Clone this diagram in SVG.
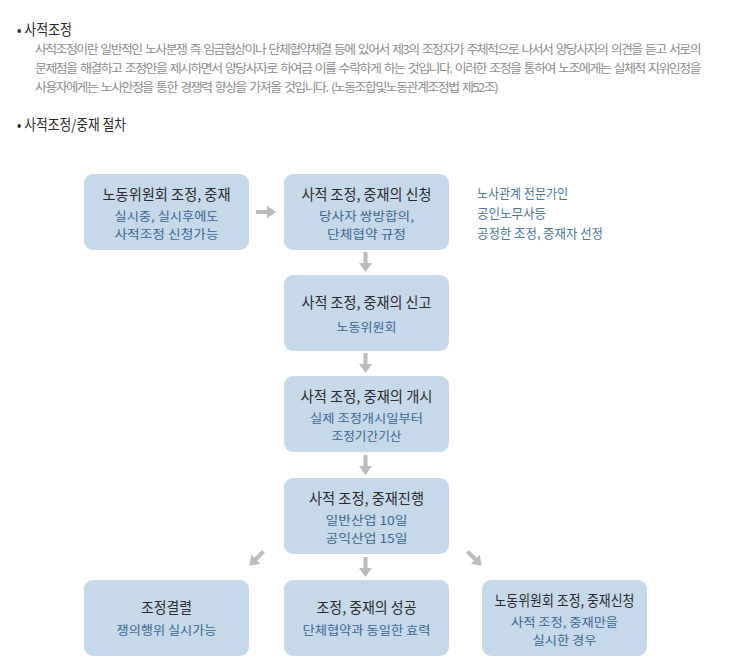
<svg xmlns="http://www.w3.org/2000/svg" xmlns:xlink="http://www.w3.org/1999/xlink" width="730" height="663" viewBox="0 0 730 663">
<style>
text{font-family:"Noto Sans CJK KR","Noto Sans",sans-serif}
.h{font-size:14.5px;fill:#2a2a2a}
.p{font-size:12px;fill:#8c8c8c;letter-spacing:-1.4px;word-spacing:1.8px}
.box{fill:#c6d9ea}
.t{font-size:14.5px;fill:#2b2b2b;text-anchor:middle}
.s{font-size:12.2px;fill:#3b6793;text-anchor:middle}
.side{font-size:13px;fill:#4a76a4}
.arr{fill:#bcbcbc}
</style>
<defs>
<path id="ar" d="M0,-2 H11 V-6.5 L20,0 L11,6.5 V2 H0 Z"/>
</defs>
<rect width="730" height="663" fill="#ffffff"/>

<g id="intro">
<text class="h" x="17" y="35" textLength="55" lengthAdjust="spacingAndGlyphs">• 사적조정</text>
<text class="p" x="35" y="53.5" textLength="665" lengthAdjust="spacingAndGlyphs">사적조정이란 일반적인 노사분쟁 즉 임금협상이나 단체협약체결 등에 있어서 제3의 조정자가 주체적으로 나서서 양당사자의 의견을 듣고 서로의</text>
<text class="p" x="35" y="72.5" textLength="665" lengthAdjust="spacingAndGlyphs">문제점을 해결하고 조정안을 제시하면서 양당사자로 하여금 이를 수락하게 하는 것입니다. 이러한 조정을 통하여 노조에게는 실체적 지위인정을</text>
<text class="p" x="35" y="91.5" textLength="462" lengthAdjust="spacingAndGlyphs">사용자에게는 노사안정을 통한 경쟁력 향상을 가져올 것입니다. (노동조합및노동관계조정법 제52조)</text>
<text class="h" x="17" y="130" textLength="109" lengthAdjust="spacingAndGlyphs">• 사적조정/중재 절차</text>
</g>

<g id="connectors">
<use href="#ar" class="arr" transform="translate(256,212)"/>
<use href="#ar" class="arr" transform="translate(365.5,252) rotate(90)"/>
<use href="#ar" class="arr" transform="translate(365.5,353) rotate(90)"/>
<use href="#ar" class="arr" transform="translate(365.5,455) rotate(90)"/>
<use href="#ar" class="arr" transform="translate(365.5,557) rotate(90)"/>
<use href="#ar" class="arr" transform="translate(263.5,551.5) rotate(135)"/>
<use href="#ar" class="arr" transform="translate(467.5,551.5) rotate(45)"/>
</g>

<g id="node-labor-committee">
<rect class="box" x="84" y="174" width="165" height="76" rx="9"/>
<text class="t" x="166.5" y="200" textLength="128" lengthAdjust="spacingAndGlyphs">노동위원회 조정, 중재</text>
<text class="s" x="166.5" y="221" textLength="104" lengthAdjust="spacingAndGlyphs">실시중, 실시후에도</text>
<text class="s" x="166.5" y="239" textLength="104" lengthAdjust="spacingAndGlyphs">사적조정 신청가능</text>
</g>

<g id="node-apply">
<rect class="box" x="284" y="174" width="165" height="76" rx="9"/>
<text class="t" x="366.5" y="200" textLength="130" lengthAdjust="spacingAndGlyphs">사적 조정, 중재의 신청</text>
<text class="s" x="366.5" y="221" textLength="95" lengthAdjust="spacingAndGlyphs">당사자 쌍방합의,</text>
<text class="s" x="366.5" y="239" textLength="79" lengthAdjust="spacingAndGlyphs">단체협약 규정</text>
</g>

<g id="note-apply">
<text class="side" x="477" y="197.5" textLength="91" lengthAdjust="spacingAndGlyphs">노사관계 전문가인</text>
<text class="side" x="477" y="217.5" textLength="69" lengthAdjust="spacingAndGlyphs">공인노무사등</text>
<text class="side" x="477" y="237.5" textLength="126" lengthAdjust="spacingAndGlyphs">공정한 조정, 중재자 선정</text>
</g>

<g id="node-report">
<rect class="box" x="284" y="275" width="165" height="76" rx="9"/>
<text class="t" x="366.5" y="307.5" textLength="130" lengthAdjust="spacingAndGlyphs">사적 조정, 중재의 신고</text>
<text class="s" x="366.5" y="331.5" textLength="60" lengthAdjust="spacingAndGlyphs">노동위원회</text>
</g>

<g id="node-start">
<rect class="box" x="284" y="376" width="165" height="76" rx="9"/>
<text class="t" x="366.5" y="402" textLength="132" lengthAdjust="spacingAndGlyphs">사적 조정, 중재의 개시</text>
<text class="s" x="366.5" y="423" textLength="113" lengthAdjust="spacingAndGlyphs">실제 조정개시일부터</text>
<text class="s" x="366.5" y="441" textLength="70" lengthAdjust="spacingAndGlyphs">조정기간기산</text>
</g>

<g id="node-progress">
<rect class="box" x="284" y="478" width="165" height="76" rx="9"/>
<text class="t" x="366.5" y="504" textLength="115" lengthAdjust="spacingAndGlyphs">사적 조정, 중재진행</text>
<text class="s" x="366.5" y="525" textLength="82" lengthAdjust="spacingAndGlyphs">일반산업 10일</text>
<text class="s" x="366.5" y="543" textLength="82" lengthAdjust="spacingAndGlyphs">공익산업 15일</text>
</g>

<g id="node-fail">
<rect class="box" x="84" y="580" width="165" height="76" rx="9"/>
<text class="t" x="166.5" y="612.5" textLength="51" lengthAdjust="spacingAndGlyphs">조정결렬</text>
<text class="s" x="166.5" y="635" textLength="100" lengthAdjust="spacingAndGlyphs">쟁의행위 실시가능</text>
</g>

<g id="node-success">
<rect class="box" x="284" y="580" width="165" height="76" rx="9"/>
<text class="t" x="366.5" y="612.5" textLength="100" lengthAdjust="spacingAndGlyphs">조정, 중재의 성공</text>
<text class="s" x="366.5" y="635" textLength="128" lengthAdjust="spacingAndGlyphs">단체협약과 동일한 효력</text>
</g>

<g id="node-committee-apply">
<rect class="box" x="482" y="580" width="165" height="76" rx="9"/>
<text class="t" x="564.5" y="606" textLength="140" lengthAdjust="spacingAndGlyphs">노동위원회 조정, 중재신청</text>
<text class="s" x="564.5" y="627" textLength="107" lengthAdjust="spacingAndGlyphs">사적 조정, 중재만을</text>
<text class="s" x="564.5" y="645" textLength="64" lengthAdjust="spacingAndGlyphs">실시한 경우</text>
</g>
</svg>
